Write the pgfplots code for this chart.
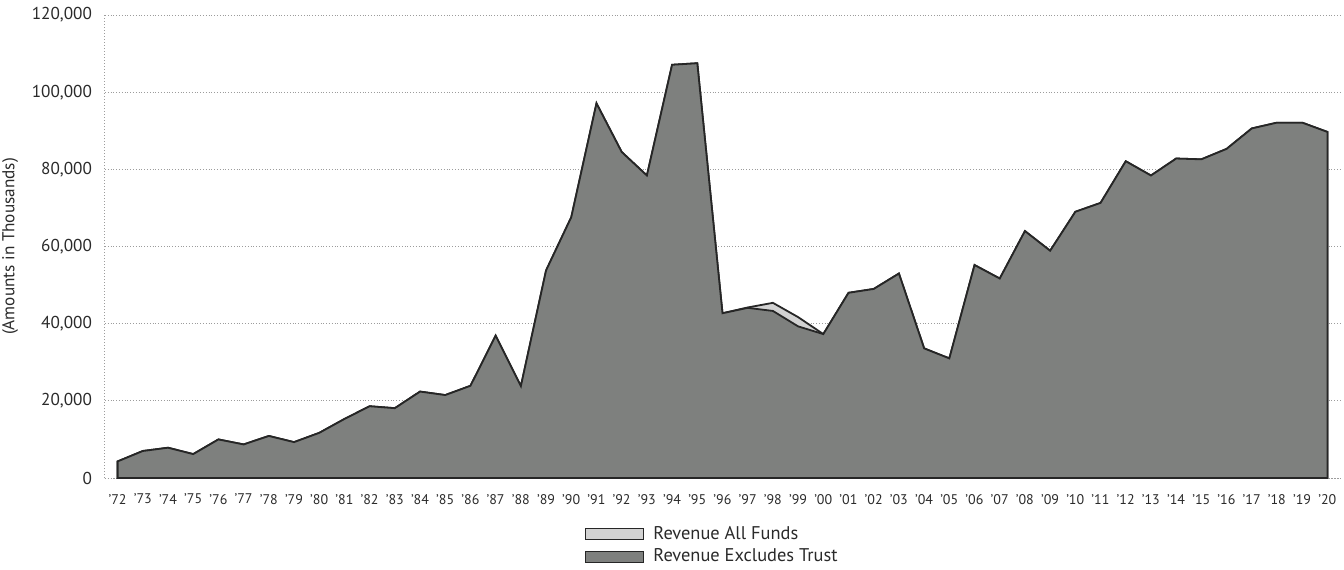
\documentclass[border=0pt]{standalone}
\usepackage{fontspec}
\setmainfont{PT Sans}
\usepackage{pgfplots}
\usepackage{pgfplotstable}
\pgfplotsset{compat=1.18}
\usetikzlibrary{calc}

\definecolor{darkfill}{HTML}{7E807E}
\definecolor{lightfill}{HTML}{D2D2D2}
\definecolor{gridgray}{HTML}{9C9C9C}
\definecolor{txt}{HTML}{2A2A2A}

\newcommand{\yr}[1]{\textquoteright#1}

% revenue in thousands: excl = excludes trust, all = all funds
\pgfplotstableread{
year excl all
1972 4300 4300
1973 7000 7000
1974 7850 7850
1975 6200 6200
1976 10000 10000
1977 8700 8700
1978 10900 10900
1979 9300 9300
1980 11700 11700
1981 15300 15300
1982 18600 18600
1983 18100 18100
1984 22400 22400
1985 21500 21500
1986 23900 23900
1987 36900 36900
1988 23800 23800
1989 53800 53800
1990 67600 67600
1991 97100 97100
1992 84500 84500
1993 78400 78400
1994 107100 107100
1995 107500 107500
1996 42700 42700
1997 44100 44200
1998 43300 45400
1999 39300 41700
2000 37300 37300
2001 48000 48000
2002 49000 49000
2003 53000 53000
2004 33600 33600
2005 31000 31000
2006 55200 55200
2007 51700 51700
2008 64000 64000
2009 58900 58900
2010 69000 69000
2011 71300 71300
2012 82100 82100
2013 78400 78400
2014 82800 82800
2015 82600 82600
2016 85300 85300
2017 90600 90600
2018 92100 92100
2019 92100 92100
2020 89700 89700
}\revtable

\begin{document}
\begin{tikzpicture}
\begin{axis}[
    name=ax,
    scale only axis,
    width=617.5pt, height=231.5pt,
    xmin=1971.5, xmax=2020.5,
    ymin=0, ymax=120000,
    xtick={1972,...,2020},
    xticklabels={\yr{72},\yr{73},\yr{74},\yr{75},\yr{76},\yr{77},\yr{78},\yr{79},\yr{80},\yr{81},\yr{82},\yr{83},\yr{84},\yr{85},\yr{86},\yr{87},\yr{88},\yr{89},\yr{90},\yr{91},\yr{92},\yr{93},\yr{94},\yr{95},\yr{96},\yr{97},\yr{98},\yr{99},\yr{00},\yr{01},\yr{02},\yr{03},\yr{04},\yr{05},\yr{06},\yr{07},\yr{08},\yr{09},\yr{10},\yr{11},\yr{12},\yr{13},\yr{14},\yr{15},\yr{16},\yr{17},\yr{18},\yr{19},\yr{20}},
    ytick={0,20000,40000,60000,80000,100000,120000},
    yticklabels={0,{20,000},{40,000},{60,000},{80,000},{100,000},{120,000}},
    scaled y ticks=false,
    major tick length=0pt,
    ymajorgrids,
    grid style={densely dotted, gridgray, line width=0.5pt},
    axis x line*=bottom, axis y line*=left,
    axis line style={densely dotted, gridgray, line width=0.5pt, -},
    x tick label style={font=\fontsize{7}{8}\selectfont, text=txt, yshift=-4.5pt},
    y tick label style={font=\fontsize{8.6}{10}\selectfont, text=txt, xshift=-3pt},
    ylabel={(Amounts in Thousands)},
    ylabel style={font=\fontsize{8.6}{10}\selectfont, text=txt, at={(axis description cs:-0.0769,0.5)}, anchor=center},
    legend style={at={(rel axis cs:0.3887,0)}, anchor=north west, yshift=-23pt,
        draw=none, fill=none, inner sep=0pt, row sep=1.2pt, column sep=3.5pt,
        font=\fontsize{9.2}{10}\selectfont, text=txt,
        nodes={inner sep=1pt}},
    legend cell align=left,
    legend image code/.code={\draw[#1, line width=0.5pt] (0pt,-2.75pt) rectangle (29pt,2.75pt);},
]
\addplot[fill=lightfill, draw=black!85, line width=0.9pt] table[x=year, y=all] {\revtable} \closedcycle;
\addlegendentry{Revenue All Funds}
\addplot[fill=darkfill, draw=black!85, line width=0.9pt] table[x=year, y=excl] {\revtable} \closedcycle;
\addlegendentry{Revenue Excludes Trust}
\end{axis}
\pgfresetboundingbox
\path[use as bounding box] ($(ax.south west)+(-52.5pt,-45.5pt)$) rectangle ($(ax.north east)+(2pt,7.5pt)$);
\end{tikzpicture}
\end{document}
